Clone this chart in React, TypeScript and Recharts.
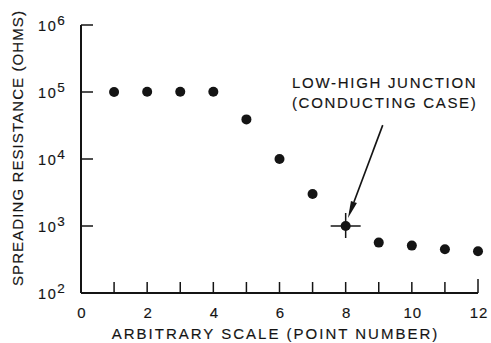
import React from 'react';
import { ScatterChart, Scatter, XAxis, YAxis, ReferenceLine } from 'recharts';

const pointNumbers = [1, 2, 3, 4, 5, 6, 7, 8, 9, 10, 11, 12];
const resistanceOhms = [100000, 101000, 101000, 101000, 39000, 10000, 3000, 1000, 565, 510, 450, 420];
const highlightedPoint = 8;
const xTicks = [0, 1, 2, 3, 4, 5, 6, 7, 8, 9, 10, 11, 12];
const yTicks = [100, 1000, 10000, 100000, 1000000];
const yExponents = ['2', '3', '4', '5', '6'];
const annotationLines = ['LOW-HIGH JUNCTION', '(CONDUCTING CASE)'];
const arrowFrom = { x: 9.12, y: 32000 };
const arrowTo = { x: 8.07, y: 1320 };

const data = pointNumbers.map((p, i) => ({ x: p, y: resistanceOhms[i] }));

const FONT = '"Liberation Sans", Arial, sans-serif';
const INK = '#141414';
const TEXT_STROKE = { stroke: INK, strokeWidth: 0.15 };

const XTick = (props: any) => {
  const { x, y, payload } = props;
  const v = payload.value;
  return (
    <g>
      {v > 0 && (
        <line x1={x} y1={y} x2={x} y2={y - (v === 12 ? 14 : 11)} stroke={INK} strokeWidth={1.5} />
      )}
      {v % 2 === 0 && (
        <text x={x + 1} y={y + 25} textAnchor="middle" fontFamily={FONT} fontSize={15} fill={INK} letterSpacing={1} {...TEXT_STROKE}>
          {v}
        </text>
      )}
    </g>
  );
};

const YTick = (props: any) => {
  const { x, y, payload } = props;
  const idx = yTicks.indexOf(payload.value);
  return (
    <g>
      {idx > 0 && <line x1={x} y1={y} x2={x + 12} y2={y} stroke={INK} strokeWidth={1.5} />}
      <text x={x - 43} y={y + 6} fontFamily={FONT} fontSize={14.5} fill={INK} letterSpacing={1.6} {...TEXT_STROKE}>
        <tspan>10</tspan>
        <tspan dy={-6} fontSize={13.5}>{yExponents[idx]}</tspan>
      </text>
    </g>
  );
};

const PointShape = (props: any) => {
  const { cx, cy, payload } = props;
  return (
    <g>
      <circle cx={cx} cy={cy} r={5} fill={INK} />
      {payload.x === highlightedPoint && (
        <g stroke={INK} strokeWidth={1.5}>
          <line x1={cx - 15} y1={cy} x2={cx + 15} y2={cy} />
          <line x1={cx} y1={cy - 13} x2={cx} y2={cy + 12} />
        </g>
      )}
    </g>
  );
};

const ArrowShape = (props: any) => {
  const { x1, y1, x2, y2 } = props;
  if ([x1, y1, x2, y2].some((v) => typeof v !== 'number' || isNaN(v))) return null;
  const dx = x2 - x1;
  const dy = y2 - y1;
  const len = Math.sqrt(dx * dx + dy * dy);
  const ux = dx / len;
  const uy = dy / len;
  const hl = 17;
  const hw = 3.2;
  const bx = x2 - ux * hl;
  const by = y2 - uy * hl;
  const px = -uy;
  const py = ux;
  return (
    <g>
      <line x1={x1} y1={y1} x2={bx} y2={by} stroke={INK} strokeWidth={1.6} />
      <polygon
        points={`${x2},${y2} ${bx + px * hw},${by + py * hw} ${bx - px * hw},${by - py * hw}`}
        fill={INK}
      />
      {annotationLines.map((t, i) => (
        <text
          key={t}
          x={x1 + 2}
          y={y1 - 37 + i * 20}
          textAnchor="middle"
          fontFamily={FONT}
          fontSize={15}
          fill={INK}
          letterSpacing={1.7}
          {...TEXT_STROKE}
        >
          {t}
        </text>
      ))}
    </g>
  );
};

const YLabel = (props: any) => {
  const vb = props.viewBox || { x: 80, y: 25, width: 1, height: 268 };
  const cx = vb.x + vb.width - 64;
  const cy = vb.y + vb.height / 2 - 11;
  return (
    <text
      x={cx}
      y={cy}
      transform={`rotate(-90 ${cx} ${cy})`}
      textAnchor="middle"
      dominantBaseline="central"
      fontFamily={FONT}
      fontSize={15}
      fill={INK}
      letterSpacing={1.1}
      {...TEXT_STROKE}
    >
      SPREADING RESISTANCE (OHMS)
    </text>
  );
};

const XLabel = (props: any) => {
  const vb = props.viewBox || { x: 81, y: 293, width: 397, height: 1 };
  const cx = vb.x + vb.width / 2 - 4;
  return (
    <text x={cx} y={vb.y + 46} textAnchor="middle" fontFamily={FONT} fontSize={15} fill={INK} letterSpacing={2} {...TEXT_STROKE}>
      ARBITRARY SCALE (POINT NUMBER)
    </text>
  );
};

export default function App() {
  return (
    <div style={{ position: 'absolute', left: 0, top: 0, width: 491, height: 343, background: '#fff' }}>
      <ScatterChart width={491} height={343} margin={{ top: 25, right: 13, bottom: 49, left: 80 }}>
        <XAxis
          type="number"
          dataKey="x"
          domain={[0, 12]}
          ticks={xTicks}
          interval={0}
          height={1}
          tickSize={0}
          tickMargin={0}
          tick={<XTick />}
          axisLine={{ stroke: INK, strokeWidth: 2 }}
          label={<XLabel />}
        />
        <YAxis
          type="number"
          dataKey="y"
          scale="log"
          domain={[100, 1000000]}
          allowDataOverflow
          ticks={yTicks}
          interval={0}
          width={1}
          tickSize={0}
          tickMargin={0}
          tick={<YTick />}
          axisLine={{ stroke: INK, strokeWidth: 2 }}
          label={<YLabel />}
        />
        <ReferenceLine
          segment={[arrowFrom, arrowTo]}
          shape={<ArrowShape />}
          ifOverflow="visible"
        />
        <Scatter data={data} isAnimationActive={false} shape={<PointShape />} />
      </ScatterChart>
    </div>
  );
}
